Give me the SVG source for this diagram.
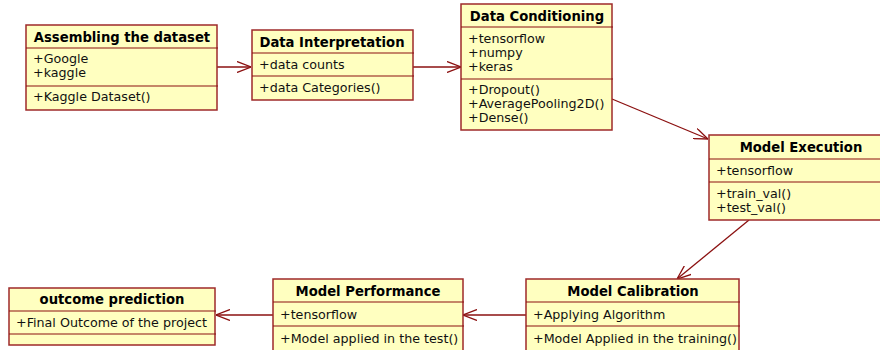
<svg xmlns="http://www.w3.org/2000/svg" width="880" height="350" viewBox="0 0 880 350">
<defs>
<style>
.box{fill:#FFFFC0;stroke:#9E2A2A;stroke-width:1.5}
.div{stroke:#8B1010;stroke-width:1.2}
.t{font-family:"DejaVu Sans",Verdana,sans-serif;font-size:12.7px;fill:#111}
.h{font-family:"DejaVu Sans",Verdana,sans-serif;font-size:13.2px;font-weight:bold;fill:#000;text-anchor:middle}
.c{stroke:#8B1010;stroke-width:1.3;fill:none}
</style>
<marker id="arr" viewBox="0 0 14 12" refX="14" refY="6" markerWidth="14" markerHeight="12" markerUnits="userSpaceOnUse" orient="auto">
<path d="M0,0.5 L14,6 L0,11.5" fill="none" stroke="#8B1010" stroke-width="1.3"/>
</marker>
</defs>
<rect width="880" height="350" fill="#fff"/>

<g id="connectors">
<path class="c" d="M217,67 L251,67" marker-end="url(#arr)"/>
<path class="c" d="M413,67 L461,67" marker-end="url(#arr)"/>
<path class="c" d="M612,99 L708,139" marker-end="url(#arr)"/>
<path class="c" d="M749,220 L677,279" marker-end="url(#arr)"/>
<path class="c" d="M526,315 L463,315" marker-end="url(#arr)"/>
<path class="c" d="M273,315 L216,315" marker-end="url(#arr)"/>
</g>

<g id="assembling">
<rect class="box" x="26" y="25" width="191" height="85"/>
<line class="div" x1="26" y1="48" x2="218" y2="48"/>
<line class="div" x1="26" y1="86" x2="218" y2="86"/>
<text class="h" x="122" y="42">Assembling the dataset</text>
<text class="t" x="33" y="63">+Google</text>
<text class="t" x="33" y="77">+kaggle</text>
<text class="t" x="33" y="101">+Kaggle Dataset()</text>
</g>

<g id="interpretation">
<rect class="box" x="252" y="30" width="161" height="70"/>
<line class="div" x1="252" y1="53" x2="414" y2="53"/>
<line class="div" x1="252" y1="76" x2="414" y2="76"/>
<text class="h" x="332" y="47">Data Interpretation</text>
<text class="t" x="259" y="69">+data counts</text>
<text class="t" x="259" y="92">+data Categories()</text>
</g>

<g id="conditioning">
<rect class="box" x="461" y="4" width="151" height="126"/>
<line class="div" x1="461" y1="27" x2="613" y2="27"/>
<line class="div" x1="461" y1="79" x2="613" y2="79"/>
<text class="h" x="537" y="21">Data Conditioning</text>
<text class="t" x="468" y="43">+tensorflow</text>
<text class="t" x="468" y="57">+numpy</text>
<text class="t" x="468" y="71">+keras</text>
<text class="t" x="468" y="94">+Dropout()</text>
<text class="t" x="468" y="108">+AveragePooling2D()</text>
<text class="t" x="468" y="122">+Dense()</text>
</g>

<g id="execution">
<rect class="box" x="709" y="135" width="185" height="85"/>
<line class="div" x1="709" y1="159" x2="894" y2="159"/>
<line class="div" x1="709" y1="182" x2="894" y2="182"/>
<text class="h" x="801" y="152">Model Execution</text>
<text class="t" x="716" y="175">+tensorflow</text>
<text class="t" x="716" y="198">+train_val()</text>
<text class="t" x="716" y="212">+test_val()</text>
</g>

<g id="calibration">
<rect class="box" x="526" y="279" width="213" height="75"/>
<line class="div" x1="526" y1="302" x2="740" y2="302"/>
<line class="div" x1="526" y1="326" x2="740" y2="326"/>
<text class="h" x="633" y="296">Model Calibration</text>
<text class="t" x="533" y="319">+Applying Algorithm</text>
<text class="t" x="533" y="343">+Model Applied in the training()</text>
</g>

<g id="performance">
<rect class="box" x="273" y="279" width="190" height="75"/>
<line class="div" x1="273" y1="302" x2="464" y2="302"/>
<line class="div" x1="273" y1="326" x2="464" y2="326"/>
<text class="h" x="368" y="296">Model Performance</text>
<text class="t" x="280" y="319">+tensorflow</text>
<text class="t" x="280" y="343">+Model applied in the test()</text>
</g>

<g id="outcome">
<rect class="box" x="9" y="288" width="206" height="57"/>
<line class="div" x1="9" y1="311" x2="216" y2="311"/>
<line class="div" x1="9" y1="334" x2="216" y2="334"/>
<text class="h" x="112" y="304">outcome prediction</text>
<text class="t" x="16" y="327">+Final Outcome of the project</text>
</g>
</svg>
